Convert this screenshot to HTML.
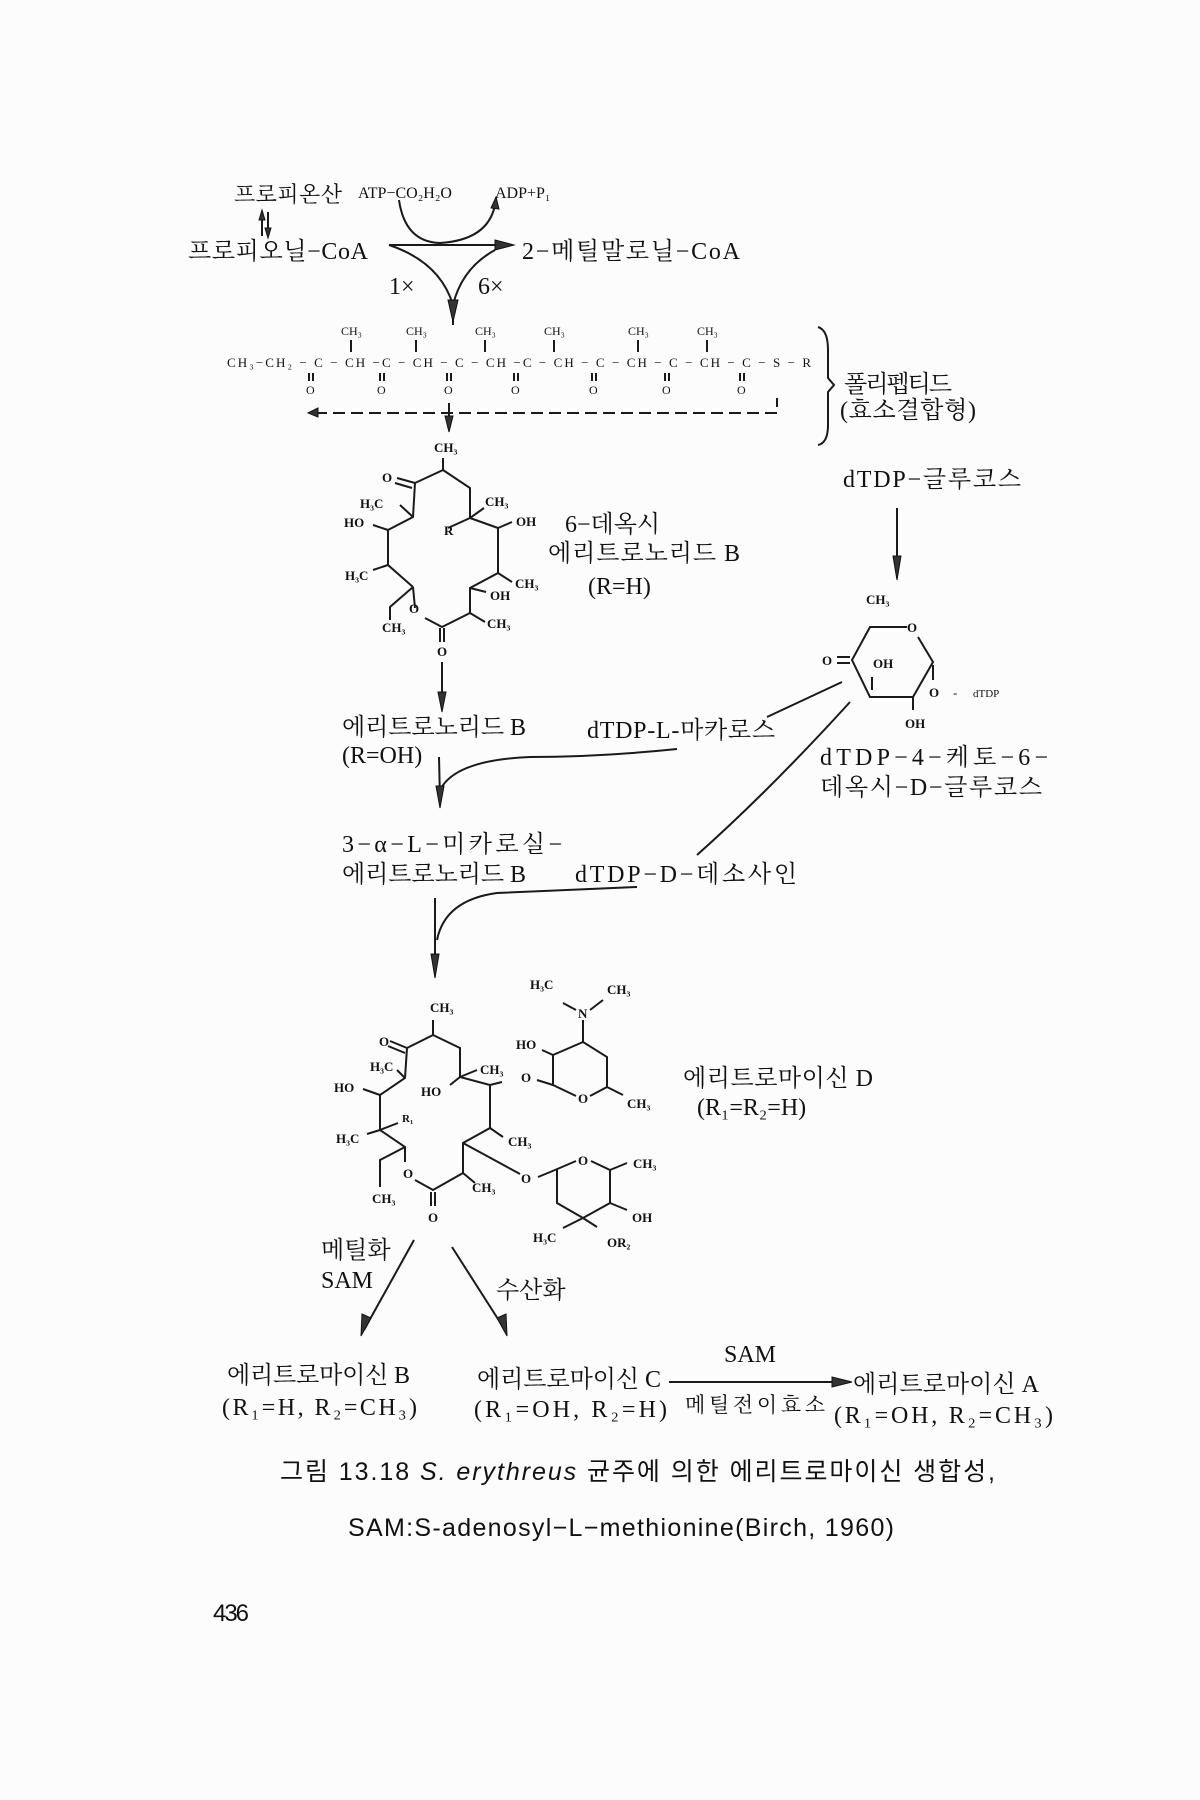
<!DOCTYPE html>
<html><head><meta charset="utf-8"><style>
html,body{margin:0;padding:0;background:#fcfcfc;}
svg{display:block}
.k{font-family:"Liberation Serif","Noto Serif CJK KR","Noto Serif CJK SC",serif;fill:#111;font-size:24px}
.s{font-family:"Liberation Serif",serif;fill:#111;font-size:13px;font-weight:bold}
.c{font-family:"Liberation Sans","Noto Sans CJK KR",sans-serif;fill:#111;font-size:25px}
line,path,polyline{stroke:#1a1a1a;stroke-width:2;fill:none}
.ah{fill:#333;stroke:#111;stroke-width:1}
</style></head><body>
<svg width="1200" height="1800" viewBox="0 0 1200 1800" xmlns="http://www.w3.org/2000/svg">
<rect width="1200" height="1800" fill="#fcfcfc"/>

<!-- top reaction -->
<text class="k" x="234" y="202" style="font-size:22px" textLength="108">프로피온산</text>
<text class="s" x="358" y="198" style="font-size:16px;font-weight:normal">ATP−CO₂H₂O</text>
<text class="s" x="495" y="198" style="font-size:16px;font-weight:normal">ADP+P₁</text>
<line x1="262" y1="212" x2="262" y2="236"/><line x1="268" y1="212" x2="268" y2="236"/>
<polygon class="ah" points="259,220 262,210 265,220"/><polygon class="ah" points="265,228 268,238 271,228"/>
<text class="k" x="188" y="259" textLength="180">프로피오닐−CoA</text>
<text class="k" x="522" y="259" textLength="218">2−메틸말로닐−CoA</text>
<line x1="389" y1="245" x2="500" y2="245"/>
<polygon class="ah" points="495,240 514,245 495,250"/>
<path d="M389,245 Q440,262 453,305"/>
<path d="M495,250 Q462,268 453,305"/>
<line x1="453" y1="300" x2="453" y2="325"/>
<polygon class="ah" points="448,300 453,322 458,300"/>
<path d="M399,200 Q405,242 440,243 Q488,240 495,205"/>
<polygon class="ah" points="491,208 496,197 499,209"/>
<text class="k" x="389" y="294">1×</text>
<text class="k" x="478" y="294">6×</text>

<!-- polyketide chain -->
<text class="s" x="227" y="367" textLength="584" style="font-size:13px;font-weight:normal">CH₃−CH₂ − C − CH −C − CH − C − CH −C − CH − C − CH − C − CH − C − S − R</text>
<g class="s" style="font-size:12px;font-weight:normal">
<text x="341" y="335">CH₃</text><text x="406" y="335">CH₃</text><text x="475" y="335">CH₃</text>
<text x="544" y="335">CH₃</text><text x="628" y="335">CH₃</text><text x="697" y="335">CH₃</text>
<text x="306" y="394">O</text><text x="377" y="394">O</text><text x="444" y="394">O</text><text x="511" y="394">O</text>
<text x="589" y="394">O</text><text x="662" y="394">O</text><text x="737" y="394">O</text>
</g>
<g stroke-width="1.5">
<line x1="351" y1="340" x2="351" y2="352"/><line x1="416" y1="340" x2="416" y2="352"/><line x1="485" y1="340" x2="485" y2="352"/>
<line x1="554" y1="340" x2="554" y2="352"/><line x1="638" y1="340" x2="638" y2="352"/><line x1="707" y1="340" x2="707" y2="352"/>
<path d="M309,373v8M313,373v8M380,373v8M384,373v8M447,373v8M451,373v8M514,373v8M518,373v8M592,373v8M596,373v8M665,373v8M669,373v8M740,373v8M744,373v8"/>
</g>
<path d="M315,413 H777 V398" stroke-dasharray="12,6"/>
<polygon class="ah" points="318,408 308,413 318,417"/>
<line x1="449" y1="403" x2="449" y2="430"/>
<polygon class="ah" points="445,416 449,432 453,416"/>
<path d="M818,327 Q828,330 828,350 V378 L834,385 L828,392 V425 Q828,443 818,445" stroke-width="1.5"/>
<text class="k" x="844" y="392" textLength="108">폴리펩티드</text>
<text class="k" x="840" y="418" textLength="136">(효소결합형)</text>

<!-- 6-deoxyerythronolide B -->
<text class="s" x="434" y="452">CH₃</text>
<path d="M443,458 V470 L415,483 L413,517 L388,530 L388,565 L413,587 M415,608 L413,587 M425,618 L442,627 L470,613 L470,588 L498,573 L498,528 L470,518 L470,488 L443,470"/>
<line x1="397" y1="478" x2="415" y2="483"/><line x1="395" y1="483" x2="412" y2="488"/>
<line x1="400" y1="505" x2="413" y2="517"/><line x1="373" y1="525" x2="388" y2="530"/>
<line x1="373" y1="570" x2="388" y2="565"/><path d="M413,587 L390,607 V620"/>
<line x1="470" y1="518" x2="448" y2="528"/><line x1="470" y1="518" x2="484" y2="508"/>
<line x1="498" y1="528" x2="512" y2="522"/><line x1="498" y1="573" x2="512" y2="582"/>
<line x1="470" y1="588" x2="486" y2="592"/><line x1="470" y1="613" x2="485" y2="622"/>
<line x1="440" y1="628" x2="440" y2="642"/><line x1="444" y1="628" x2="444" y2="642"/>
<g class="s">
<text x="382" y="482">O</text><text x="360" y="508">H₃C</text><text x="344" y="527">HO</text>
<text x="444" y="535">R</text><text x="485" y="506">CH₃</text><text x="516" y="526">OH</text>
<text x="345" y="580">H₃C</text><text x="515" y="588">CH₃</text><text x="490" y="600">OH</text>
<text x="409" y="613">O</text><text x="382" y="632">CH₃</text><text x="487" y="628">CH₃</text><text x="437" y="656">O</text>
</g>
<text class="k" x="565" y="532">6−데옥시</text>
<text class="k" x="548" y="561" textLength="192">에리트로노리드 B</text>
<text class="k" x="588" y="594">(R=H)</text>
<line x1="442" y1="662" x2="442" y2="710"/>
<polygon class="ah" points="438,692 442,712 446,692"/>

<!-- sugar -->
<text class="k" x="843" y="487" textLength="178">dTDP−글루코스</text>
<line x1="897" y1="508" x2="897" y2="578"/>
<polygon class="ah" points="893,556 897,580 901,556"/>
<text class="s" x="866" y="604">CH₃</text>
<path d="M907,627 H870 L852,660 L870,697 H913 L933,662 L918,637"/>
<path d="M870,697 H913" stroke-width="4"/>
<text class="s" x="907" y="632">O</text>
<line x1="837" y1="657" x2="850" y2="657"/><line x1="837" y1="663" x2="850" y2="663"/>
<text class="s" x="822" y="665">O</text>
<text class="s" x="873" y="668">OH</text>
<line x1="872" y1="677" x2="872" y2="690" stroke-width="1.5"/>
<line x1="933" y1="665" x2="933" y2="680" stroke-width="1.5"/>
<text class="s" x="929" y="697">O</text>
<text class="s" x="953" y="697" style="font-weight:normal">-</text>
<text class="s" x="973" y="697" style="font-size:11px;font-weight:normal">dTDP</text>
<line x1="913" y1="697" x2="913" y2="710" stroke-width="1.5"/>
<text class="s" x="905" y="728">OH</text>
<text class="k" x="820" y="765" textLength="228">dTDP−4−케토−6−</text>
<text class="k" x="820" y="795" textLength="222">데옥시−D−글루코스</text>
<path d="M842,682 L767,717"/>
<path d="M850,702 Q770,790 697,855"/>

<!-- middle -->
<text class="k" x="342" y="735" textLength="184">에리트로노리드 B</text>
<text class="k" x="342" y="763">(R=OH)</text>
<text class="k" x="587" y="738" textLength="188">dTDP-L-마카로스</text>
<path d="M677,749 Q600,757 530,757 Q455,760 440,790"/>
<line x1="439" y1="757" x2="440" y2="800"/>
<polygon class="ah" points="436,786 440,808 444,786"/>
<text class="k" x="342" y="852" textLength="220">3−α−L−미카로실−</text>
<text class="k" x="342" y="882" textLength="184">에리트로노리드 B</text>
<text class="k" x="575" y="882" textLength="222">dTDP−D−데소사인</text>
<path d="M637,887 Q560,890 497,893 Q445,900 437,940"/>
<line x1="435" y1="898" x2="435" y2="965"/>
<polygon class="ah" points="431,954 435,978 439,954"/>

<!-- erythromycin D -->
<text class="s" x="430" y="1012">CH₃</text>
<path d="M433,1020 V1035 L407,1048 L405,1078 L380,1095 V1130 L405,1147 V1162 M415,1180 L433,1190 L463,1173 V1143 L490,1128 V1085 L460,1077 V1048 L433,1035"/>
<line x1="390" y1="1041" x2="407" y2="1048"/><line x1="388" y1="1046" x2="405" y2="1053"/>
<line x1="397" y1="1070" x2="405" y2="1078"/><line x1="363" y1="1089" x2="380" y2="1095"/>
<line x1="367" y1="1134" x2="380" y2="1130"/><line x1="398" y1="1123" x2="380" y2="1130"/>
<path d="M405,1147 L380,1160 V1187"/>
<line x1="450" y1="1085" x2="460" y2="1077"/><line x1="477" y1="1070" x2="460" y2="1077"/>
<line x1="490" y1="1085" x2="502" y2="1082"/><line x1="490" y1="1128" x2="503" y2="1137"/>
<line x1="463" y1="1143" x2="520" y2="1174"/><line x1="463" y1="1173" x2="475" y2="1183"/>
<line x1="431" y1="1192" x2="431" y2="1206"/><line x1="435" y1="1192" x2="435" y2="1206"/>
<g class="s">
<text x="379" y="1046">O</text><text x="370" y="1071">H₃C</text><text x="334" y="1092">HO</text><text x="421" y="1096">HO</text>
<text x="480" y="1074">CH₃</text><text x="402" y="1122" style="font-size:11px">R₁</text><text x="336" y="1143">H₃C</text>
<text x="508" y="1146">CH₃</text><text x="403" y="1178">O</text><text x="472" y="1192">CH₃</text>
<text x="372" y="1203">CH₃</text><text x="428" y="1222">O</text>
</g>
<!-- desosamine -->
<g class="s"><text x="530" y="989">H₃C</text><text x="607" y="994">CH₃</text><text x="578" y="1018">N</text>
<text x="516" y="1049">HO</text><text x="521" y="1082">O</text><text x="578" y="1103">O</text><text x="627" y="1108">CH₃</text></g>
<line x1="563" y1="1003" x2="576" y2="1010"/><line x1="590" y1="1010" x2="603" y2="1000"/>
<path d="M583,1020 V1042 L607,1057 V1087 L590,1096 M576,1096 L553,1085 V1055 L583,1042"/>
<line x1="542" y1="1050" x2="553" y2="1055"/><line x1="537" y1="1080" x2="553" y2="1085"/>
<line x1="607" y1="1087" x2="623" y2="1095"/>
<!-- cladinose -->
<g class="s"><text x="521" y="1183">O</text><text x="578" y="1165">O</text><text x="633" y="1168">CH₃</text>
<text x="632" y="1222">OH</text><text x="533" y="1242">H₃C</text><text x="607" y="1247">OR₂</text></g>
<path d="M538,1177 L555,1170 L576,1161 M591,1161 L610,1170 V1203 L583,1218 L557,1203 V1170"/>
<line x1="610" y1="1170" x2="627" y2="1163"/><line x1="610" y1="1203" x2="627" y2="1210"/>
<line x1="583" y1="1218" x2="563" y2="1228"/><line x1="583" y1="1218" x2="597" y2="1227"/>
<text class="k" x="683" y="1086" textLength="190">에리트로마이신 D</text>
<text class="k" x="697" y="1115">(R₁=R₂=H)</text>

<!-- bottom -->
<text class="k" x="321" y="1258">메틸화</text>
<text class="k" x="321" y="1288">SAM</text>
<line x1="414" y1="1240" x2="364" y2="1330"/>
<polygon class="ah" points="362,1314 361,1336 371,1318"/>
<line x1="452" y1="1247" x2="505" y2="1330"/>
<polygon class="ah" points="497,1318 507,1336 506,1314"/>
<text class="k" x="496" y="1298">수산화</text>
<text class="k" x="227" y="1383" textLength="183">에리트로마이신 B</text>
<text class="k" x="222" y="1415" textLength="195">(R₁=H, R₂=CH₃)</text>
<text class="k" x="477" y="1387" textLength="184">에리트로마이신 C</text>
<text class="k" x="474" y="1417" textLength="193">(R₁=OH, R₂=H)</text>
<line x1="669" y1="1382" x2="838" y2="1382"/>
<polygon class="ah" points="832,1377 852,1382 832,1387"/>
<text class="k" x="724" y="1362">SAM</text>
<text class="k" x="685" y="1412" style="font-size:21px" textLength="140">메틸전이효소</text>
<text class="k" x="853" y="1392" textLength="186">에리트로마이신 A</text>
<text class="k" x="834" y="1423" textLength="219">(R₁=OH, R₂=CH₃)</text>

<text class="c" x="280" y="1480" textLength="715">그림  13.18 <tspan font-style="italic">S. erythreus</tspan> 균주에 의한 에리트로마이신 생합성,</text>
<text class="c" x="348" y="1536" textLength="546">SAM:S-adenosyl−L−methionine(Birch, 1960)</text>
<text class="c" x="213" y="1621" style="font-size:24px" textLength="36">436</text>
</svg>
</body></html>
